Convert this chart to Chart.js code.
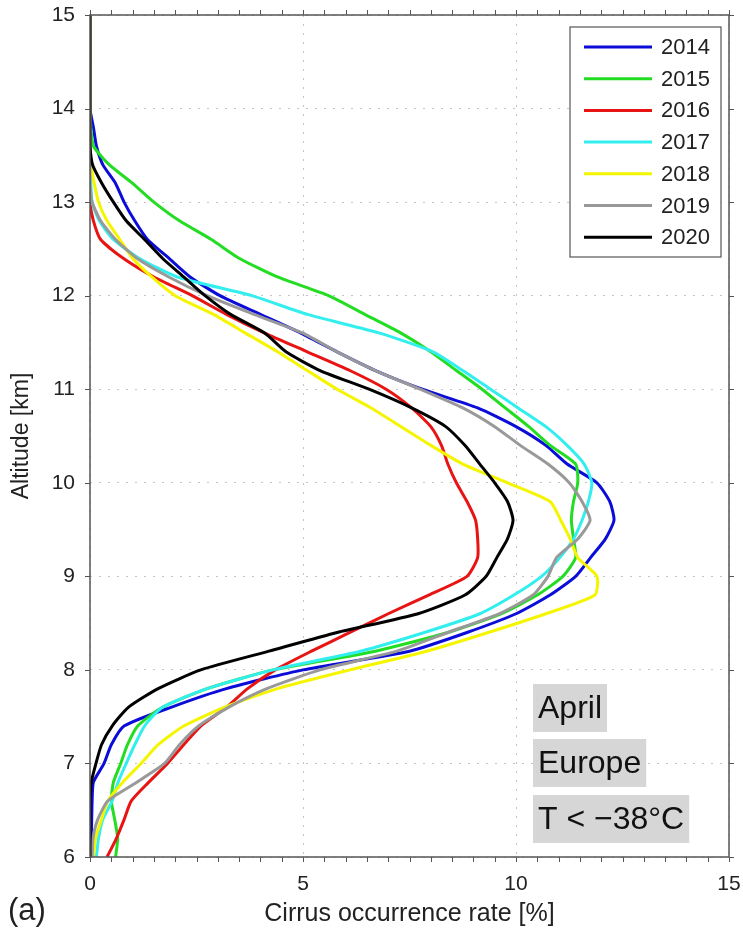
<!DOCTYPE html>
<html>
<head>
<meta charset="utf-8">
<script src="https://cdn.jsdelivr.net/npm/chart.js@4.4.1/dist/chart.umd.min.js"></script>
<style>
  html, body { margin: 0; padding: 0; background: #fff; overflow: hidden; }
  #wrap { position: relative; width: 743px; height: 933px; }
  #cirrusChart { display: block; }
  #panel { position: absolute; left: 8px; top: 894px; font: 31px "Liberation Sans", Arial, sans-serif;
           line-height: 31px; color: #222; }
</style>
</head>
<body>
<div id="wrap"><canvas id="cirrusChart" width="743" height="933"></canvas><div id="panel"></div></div>
<script>
// altitude levels [km], shared by all years
const ALTITUDE = [6.0, 6.2, 6.4, 6.6, 6.8, 7.0, 7.2, 7.4, 7.6, 7.8,
                  8.0, 8.2, 8.4, 8.6, 8.8, 9.0, 9.2, 9.4, 9.6, 9.8,
                  10.0, 10.2, 10.4, 10.6, 10.8, 11.0, 11.2, 11.4, 11.6, 11.8,
                  12.0, 12.2, 12.4, 12.6, 12.8, 13.0, 13.2, 13.4, 13.6, 13.8,
                  14.0, 15.0];

// cirrus occurrence rate [%] per year
const RATE_2014 = [0.02, 0.03, 0.04, 0.05, 0.08, 0.33, 0.5, 0.8, 1.9, 3.2,
                   5.0, 7.5, 8.85, 10.0, 10.8, 11.4, 11.75, 12.1, 12.3, 12.2,
                   11.9, 11.2, 10.7, 10.0, 9.1, 7.8, 6.7, 5.8, 4.95, 4.0,
                   3.05, 2.35, 1.85, 1.35, 1.05, 0.8, 0.6, 0.3, 0.15, 0.08, 0, 0];
const RATE_2015 = [0.6, 0.65, 0.58, 0.5, 0.55, 0.72, 0.88, 1.12, 1.7, 2.75,
                   4.3, 6.7, 8.4, 9.65, 10.5, 11.1, 11.4, 11.35, 11.3, 11.35,
                   11.45, 11.4, 10.8, 10.3, 9.75, 9.2, 8.6, 8.0, 7.3, 6.45,
                   5.6, 4.4, 3.5, 2.85, 2.1, 1.5, 1.0, 0.45, 0.08, 0.02, 0, 0];
const RATE_2016 = [0.4, 0.62, 0.8, 0.97, 1.38, 1.82, 2.2, 2.6, 3.2, 3.7,
                   4.35, 5.2, 6.1, 7.0, 7.95, 8.85, 9.1, 9.1, 9.05, 8.85,
                   8.6, 8.4, 8.25, 8.0, 7.55, 6.95, 6.1, 5.1, 4.1, 3.2,
                   2.4, 1.5, 0.78, 0.25, 0.08, 0, 0, 0, 0, 0, 0, 0];
const RATE_2017 = [0.15, 0.2, 0.3, 0.52, 0.66, 0.85, 1.05, 1.28, 1.7, 2.75,
                   4.3, 6.35, 7.85, 9.15, 9.95, 10.6, 11.03, 11.35, 11.55, 11.7,
                   11.78, 11.6, 11.2, 10.7, 10.05, 9.4, 8.75, 8.05, 6.8, 5.1,
                   3.8, 2.05, 1.15, 0.55, 0.22, 0.05, 0.02, 0, 0, 0, 0, 0];
const RATE_2018 = [0.08, 0.13, 0.27, 0.42, 0.77, 1.2, 1.6, 2.2, 3.15, 4.4,
                   6.1, 7.9, 9.35, 10.7, 11.85, 11.9, 11.45, 11.27, 11.05, 10.8,
                   9.8, 8.75, 8.0, 7.3, 6.6, 5.8, 5.1, 4.4, 3.65, 2.9,
                   2.0, 1.45, 1.0, 0.7, 0.4, 0.2, 0.1, 0.02, 0, 0, 0, 0];
const RATE_2019 = [0.05, 0.07, 0.18, 0.42, 1.1, 1.75, 2.1, 2.55, 3.25, 4.15,
                   5.4, 7.2, 8.4, 9.6, 10.4, 10.75, 10.95, 11.45, 11.74, 11.55,
                   11.25, 10.75, 10.1, 9.5, 8.75, 7.75, 6.7, 5.8, 5.0, 3.85,
                   2.75, 1.85, 1.1, 0.6, 0.25, 0.05, 0, 0, 0, 0, 0, 0];
const RATE_2020 = [0, 0, 0, 0, 0.03, 0.14, 0.27, 0.52, 0.9, 1.6,
                   2.6, 4.2, 5.8, 7.7, 8.8, 9.3, 9.55, 9.8, 9.93, 9.8,
                   9.5, 9.15, 8.8, 8.35, 7.55, 6.55, 5.4, 4.6, 4.1, 3.3,
                   2.7, 2.2, 1.7, 1.28, 0.85, 0.55, 0.28, 0.06, 0, 0, 0, 0];

const YEARS = ['2014', '2015', '2016', '2017', '2018', '2019', '2020'];
const SERIES = [RATE_2014, RATE_2015, RATE_2016, RATE_2017, RATE_2018, RATE_2019, RATE_2020];
const COLORS = ['#0c0cd8', '#22dd22', '#e81414', '#33eeee', '#f5f500', '#999999', '#000000'];

const X_TICKS = [0, 5, 10, 15];
const Y_TICKS = [6, 7, 8, 9, 10, 11, 12, 13, 14, 15];
const X_TITLE = 'Cirrus occurrence rate [%]';
const Y_TITLE = 'Altitude [km]';
const NOTES = ['April', 'Europe', 'T < \u221238\u00B0C'];
const PANEL = '(a)';

const FONT = '"Liberation Sans", Arial, Helvetica, sans-serif';
const TXT = '#222';

document.getElementById('panel').textContent = PANEL;

// --- box + outward ticks like the matlab axes ---
const framePlugin = {
    id: 'frame',
    afterDatasetsDraw(chart) {
        const { ctx, chartArea: a, scales: { x, y } } = chart;
        ctx.save();
        ctx.strokeStyle = '#555';
        ctx.lineWidth = 1.5;
        ctx.strokeRect(a.left, a.top, a.right - a.left, a.bottom - a.top);
        ctx.lineWidth = 1;
        ctx.beginPath();
        for (let v = 0; v <= 15.001; v += 0.5) {
            const px = Math.round(x.getPixelForValue(v)) + 0.5;
            ctx.moveTo(px, a.bottom); ctx.lineTo(px, a.bottom + 5);
            ctx.moveTo(px, a.top); ctx.lineTo(px, a.top - 5);
        }
        Y_TICKS.forEach(v => {
            const py = Math.round(y.getPixelForValue(v)) + 0.5;
            ctx.moveTo(a.left, py); ctx.lineTo(a.left - 5, py);
            ctx.moveTo(a.right, py); ctx.lineTo(a.right + 5, py);
        });
        ctx.stroke();
        ctx.restore();
    }
};

// --- legend box and grey notes ---
const extrasPlugin = {
    id: 'extras',
    afterDraw(chart) {
        const { ctx, chartArea: a } = chart;
        ctx.save();

        // legend
        const lx = a.right - 159, ly = a.top + 12, lw = 151, lh = 230;
        ctx.fillStyle = '#fff';
        ctx.fillRect(lx, ly, lw, lh);
        ctx.strokeStyle = '#555';
        ctx.lineWidth = 1.2;
        ctx.strokeRect(lx, ly, lw, lh);
        ctx.font = `22px ${FONT}`;
        ctx.textBaseline = 'middle';
        ctx.textAlign = 'left';
        chart.data.datasets.forEach((ds, i) => {
            const cy = ly + 20 + i * 31.7;
            ctx.strokeStyle = ds.borderColor;
            ctx.lineWidth = 3;
            ctx.beginPath();
            ctx.moveTo(lx + 14, cy); ctx.lineTo(lx + 82, cy);
            ctx.stroke();
            ctx.fillStyle = TXT;
            ctx.fillText(ds.label, lx + 91, cy + 1);
        });

        // grey label boxes
        ctx.font = `32px ${FONT}`;
        const nx = 533;
        const tops = [684, 739, 795];
        NOTES.forEach((t, i) => {
            const w = ctx.measureText(t).width + 10;
            ctx.fillStyle = '#d6d6d6';
            ctx.fillRect(nx, tops[i], w, 48);
            ctx.fillStyle = '#111';
            ctx.fillText(t, nx + 5, tops[i] + 25);
        });
        ctx.restore();
    }
};

const datasets = SERIES.map((rates, i) => ({
    label: YEARS[i],
    data: rates.map((r, k) => ({ x: r, y: ALTITUDE[k] })),
    borderColor: COLORS[i],
    backgroundColor: COLORS[i],
    borderWidth: 3,
    pointRadius: 0,
    showLine: true,
    tension: 0.2,
    fill: false,
    order: SERIES.length - i   // 2020 on top
}));

const gridCommon = {
    color: '#c4c4c4',
    lineWidth: 1,
    drawTicks: false
};

new Chart(document.getElementById('cirrusChart'), {
    type: 'scatter',
    data: { datasets },
    options: {
        responsive: false,
        animation: false,
        devicePixelRatio: 1,
        layout: { padding: { top: 15, right: 14, left: 0, bottom: 0 } },
        plugins: { legend: { display: false }, tooltip: { enabled: false } },
        scales: {
            x: {
                type: 'linear', min: 0, max: 15,
                afterBuildTicks: s => { s.ticks = X_TICKS.map(v => ({ value: v })); },
                ticks: { padding: 15, color: TXT, font: { family: FONT, size: 21 } },
                grid: gridCommon,
                border: { display: false, dash: [2, 7] },
                title: { display: true, text: X_TITLE, color: TXT,
                         font: { family: FONT, size: 25 }, padding: { top: 0, bottom: 4 } },
                afterFit: s => { s.height = 76; s.paddingLeft = 0; s.paddingRight = 0; }
            },
            y: {
                type: 'linear', min: 6, max: 15,
                afterBuildTicks: s => { s.ticks = Y_TICKS.map(v => ({ value: v })); },
                ticks: { padding: 15, color: TXT, font: { family: FONT, size: 21 } },
                grid: gridCommon,
                border: { display: false, dash: [2, 7] },
                title: { display: true, text: Y_TITLE, color: TXT,
                         font: { family: FONT, size: 23 }, padding: { top: 8, bottom: 0 } },
                afterFit: s => { s.width = 90; s.paddingTop = 0; s.paddingBottom = 0; }
            }
        }
    },
    plugins: [framePlugin, extrasPlugin]
});
</script>
</body>
</html>
